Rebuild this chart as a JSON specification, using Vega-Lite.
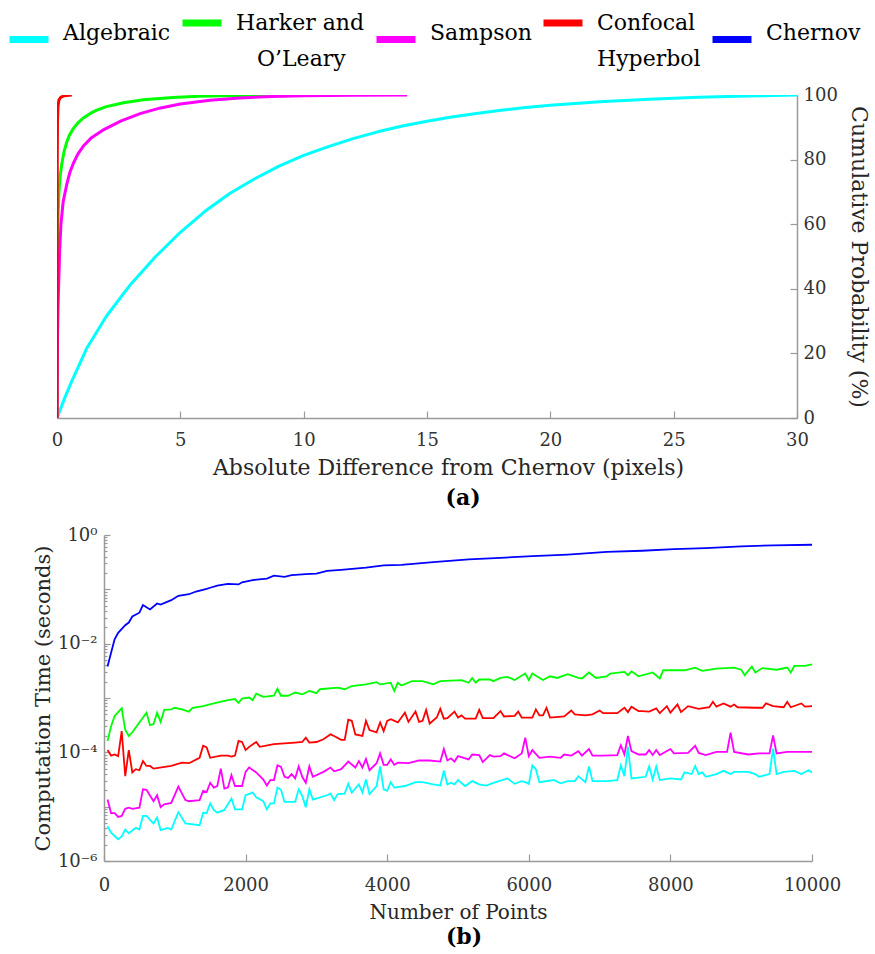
{
  "$schema": "https://vega.github.io/schema/vega-lite/v6.json",
  "padding": {"left": 6, "top": 0, "right": 4, "bottom": 4},
  "background": "white",
  "config": {
    "font": "DejaVu Serif",
    "view": {"stroke": null},
    "axis": {"grid": false, "domainColor": "#9a9a9a", "domainWidth": 1.5, "tickColor": "#9a9a9a", "tickWidth": 1.2, "labelColor": "#333333", "titleColor": "#262626", "labelFont": "DejaVu Serif", "titleFont": "DejaVu Serif", "titleFontWeight": "normal"}
  },
  "datasets": {
    "cdf": [
      {"m": "Algebraic", "x": 0, "p": 0}, {"m": "Algebraic", "x": 0.3, "p": 6}, {"m": "Algebraic", "x": 0.6, "p": 11.4}, {"m": "Algebraic", "x": 1.2, "p": 21.5}, {"m": "Algebraic", "x": 2.0, "p": 31.5}, {"m": "Algebraic", "x": 3.0, "p": 41.5}, {"m": "Algebraic", "x": 4.0, "p": 50}, {"m": "Algebraic", "x": 5.0, "p": 57.5}, {"m": "Algebraic", "x": 6.0, "p": 64}, {"m": "Algebraic", "x": 7.0, "p": 69.5}, {"m": "Algebraic", "x": 8.0, "p": 74}, {"m": "Algebraic", "x": 9.0, "p": 78}, {"m": "Algebraic", "x": 10, "p": 81.3}, {"m": "Algebraic", "x": 11, "p": 84}, {"m": "Algebraic", "x": 12, "p": 86.5}, {"m": "Algebraic", "x": 13, "p": 88.6}, {"m": "Algebraic", "x": 14, "p": 90.4}, {"m": "Algebraic", "x": 15, "p": 91.9}, {"m": "Algebraic", "x": 16, "p": 93.2}, {"m": "Algebraic", "x": 17, "p": 94.3}, {"m": "Algebraic", "x": 18, "p": 95.3}, {"m": "Algebraic", "x": 19, "p": 96.1}, {"m": "Algebraic", "x": 20, "p": 96.8}, {"m": "Algebraic", "x": 22, "p": 97.9}, {"m": "Algebraic", "x": 24, "p": 98.7}, {"m": "Algebraic", "x": 26, "p": 99.3}, {"m": "Algebraic", "x": 28, "p": 99.7}, {"m": "Algebraic", "x": 30, "p": 100},
      {"m": "Harker and O’Leary", "x": 0, "p": 0}, {"m": "Harker and O’Leary", "x": 0.005, "p": 30}, {"m": "Harker and O’Leary", "x": 0.01, "p": 45}, {"m": "Harker and O’Leary", "x": 0.02, "p": 55}, {"m": "Harker and O’Leary", "x": 0.04, "p": 62}, {"m": "Harker and O’Leary", "x": 0.08, "p": 70}, {"m": "Harker and O’Leary", "x": 0.13, "p": 75}, {"m": "Harker and O’Leary", "x": 0.19, "p": 78.5}, {"m": "Harker and O’Leary", "x": 0.28, "p": 82.3}, {"m": "Harker and O’Leary", "x": 0.39, "p": 85.3}, {"m": "Harker and O’Leary", "x": 0.5, "p": 87.5}, {"m": "Harker and O’Leary", "x": 0.66, "p": 89.6}, {"m": "Harker and O’Leary", "x": 0.85, "p": 91.4}, {"m": "Harker and O’Leary", "x": 1.07, "p": 92.9}, {"m": "Harker and O’Leary", "x": 1.35, "p": 94.3}, {"m": "Harker and O’Leary", "x": 1.61, "p": 95.3}, {"m": "Harker and O’Leary", "x": 2.0, "p": 96.4}, {"m": "Harker and O’Leary", "x": 2.7, "p": 97.6}, {"m": "Harker and O’Leary", "x": 3.5, "p": 98.5}, {"m": "Harker and O’Leary", "x": 4.7, "p": 99.2}, {"m": "Harker and O’Leary", "x": 5.7, "p": 99.6}, {"m": "Harker and O’Leary", "x": 6.74, "p": 99.8}, {"m": "Harker and O’Leary", "x": 8.77, "p": 100},
      {"m": "Sampson", "x": 0, "p": 0}, {"m": "Sampson", "x": 0.01, "p": 15}, {"m": "Sampson", "x": 0.02, "p": 25}, {"m": "Sampson", "x": 0.04, "p": 34}, {"m": "Sampson", "x": 0.07, "p": 42}, {"m": "Sampson", "x": 0.11, "p": 52}, {"m": "Sampson", "x": 0.16, "p": 60}, {"m": "Sampson", "x": 0.25, "p": 67}, {"m": "Sampson", "x": 0.4, "p": 72.5}, {"m": "Sampson", "x": 0.52, "p": 76}, {"m": "Sampson", "x": 0.66, "p": 78.8}, {"m": "Sampson", "x": 0.85, "p": 81.8}, {"m": "Sampson", "x": 1.07, "p": 84.2}, {"m": "Sampson", "x": 1.4, "p": 86.8}, {"m": "Sampson", "x": 1.9, "p": 89.3}, {"m": "Sampson", "x": 2.6, "p": 92}, {"m": "Sampson", "x": 3.4, "p": 94.3}, {"m": "Sampson", "x": 4.2, "p": 96}, {"m": "Sampson", "x": 5.0, "p": 97.2}, {"m": "Sampson", "x": 6.2, "p": 98.4}, {"m": "Sampson", "x": 7.4, "p": 99.1}, {"m": "Sampson", "x": 8.7, "p": 99.5}, {"m": "Sampson", "x": 10, "p": 99.75}, {"m": "Sampson", "x": 12, "p": 99.9}, {"m": "Sampson", "x": 14.2, "p": 100},
      {"m": "Confocal Hyperbol", "x": 0, "p": 0}, {"m": "Confocal Hyperbol", "x": 0.005, "p": 50}, {"m": "Confocal Hyperbol", "x": 0.01, "p": 80}, {"m": "Confocal Hyperbol", "x": 0.02, "p": 92}, {"m": "Confocal Hyperbol", "x": 0.04, "p": 96.5}, {"m": "Confocal Hyperbol", "x": 0.08, "p": 98.5}, {"m": "Confocal Hyperbol", "x": 0.15, "p": 99.3}, {"m": "Confocal Hyperbol", "x": 0.3, "p": 99.8}, {"m": "Confocal Hyperbol", "x": 0.6, "p": 100}
    ],
    "time": [
      {"m": "Algebraic", "n": 50, "t": 4.37e-6}, {"m": "Algebraic", "n": 100, "t": 3.31e-6}, {"m": "Algebraic", "n": 200, "t": 2.51e-6}, {"m": "Algebraic", "n": 250, "t": 2.82e-6}, {"m": "Algebraic", "n": 300, "t": 3.8e-6}, {"m": "Algebraic", "n": 350, "t": 3.24e-6}, {"m": "Algebraic", "n": 450, "t": 4.07e-6}, {"m": "Algebraic", "n": 500, "t": 3.8e-6}, {"m": "Algebraic", "n": 550, "t": 6.76e-6}, {"m": "Algebraic", "n": 600, "t": 6.76e-6}, {"m": "Algebraic", "n": 700, "t": 4.9e-6}, {"m": "Algebraic", "n": 750, "t": 6.31e-6}, {"m": "Algebraic", "n": 800, "t": 3.72e-6}, {"m": "Algebraic", "n": 900, "t": 4.07e-6}, {"m": "Algebraic", "n": 950, "t": 3.8e-6}, {"m": "Algebraic", "n": 1050, "t": 7.94e-6}, {"m": "Algebraic", "n": 1150, "t": 4.9e-6}, {"m": "Algebraic", "n": 1350, "t": 4.57e-6}, {"m": "Algebraic", "n": 1400, "t": 7.76e-6}, {"m": "Algebraic", "n": 1450, "t": 7.59e-6}, {"m": "Algebraic", "n": 1500, "t": 1.15e-5}, {"m": "Algebraic", "n": 1550, "t": 8.71e-6}, {"m": "Algebraic", "n": 1600, "t": 7.76e-6}, {"m": "Algebraic", "n": 1700, "t": 8.71e-6}, {"m": "Algebraic", "n": 1800, "t": 1.41e-5}, {"m": "Algebraic", "n": 1850, "t": 8.91e-6}, {"m": "Algebraic", "n": 1950, "t": 8.91e-6}, {"m": "Algebraic", "n": 2000, "t": 1.62e-5}, {"m": "Algebraic", "n": 2100, "t": 1.82e-5}, {"m": "Algebraic", "n": 2150, "t": 1.48e-5}, {"m": "Algebraic", "n": 2250, "t": 1.26e-5}, {"m": "Algebraic", "n": 2300, "t": 8.91e-6}, {"m": "Algebraic", "n": 2350, "t": 1.15e-5}, {"m": "Algebraic", "n": 2400, "t": 1.15e-5}, {"m": "Algebraic", "n": 2450, "t": 2.24e-5}, {"m": "Algebraic", "n": 2500, "t": 2.04e-5}, {"m": "Algebraic", "n": 2550, "t": 1.23e-5}, {"m": "Algebraic", "n": 2700, "t": 1.23e-5}, {"m": "Algebraic", "n": 2750, "t": 2.09e-5}, {"m": "Algebraic", "n": 2800, "t": 1.58e-5}, {"m": "Algebraic", "n": 2850, "t": 9.77e-6}, {"m": "Algebraic", "n": 2900, "t": 2.09e-5}, {"m": "Algebraic", "n": 2950, "t": 1.35e-5}, {"m": "Algebraic", "n": 3150, "t": 1.62e-5}, {"m": "Algebraic", "n": 3200, "t": 1.74e-5}, {"m": "Algebraic", "n": 3250, "t": 1.32e-5}, {"m": "Algebraic", "n": 3300, "t": 1.7e-5}, {"m": "Algebraic", "n": 3400, "t": 1.74e-5}, {"m": "Algebraic", "n": 3450, "t": 2.63e-5}, {"m": "Algebraic", "n": 3500, "t": 1.82e-5}, {"m": "Algebraic", "n": 3600, "t": 2.57e-5}, {"m": "Algebraic", "n": 3650, "t": 1.82e-5}, {"m": "Algebraic", "n": 3700, "t": 3.16e-5}, {"m": "Algebraic", "n": 3750, "t": 1.7e-5}, {"m": "Algebraic", "n": 3850, "t": 2.4e-5}, {"m": "Algebraic", "n": 3900, "t": 5.5e-5}, {"m": "Algebraic", "n": 3950, "t": 2.09e-5}, {"m": "Algebraic", "n": 4000, "t": 1.95e-5}, {"m": "Algebraic", "n": 4050, "t": 2.82e-5}, {"m": "Algebraic", "n": 4100, "t": 2.24e-5}, {"m": "Algebraic", "n": 4250, "t": 2.4e-5}, {"m": "Algebraic", "n": 4400, "t": 2.82e-5}, {"m": "Algebraic", "n": 4500, "t": 2.82e-5}, {"m": "Algebraic", "n": 4650, "t": 2.57e-5}, {"m": "Algebraic", "n": 4750, "t": 2.45e-5}, {"m": "Algebraic", "n": 4800, "t": 4.57e-5}, {"m": "Algebraic", "n": 4850, "t": 2.57e-5}, {"m": "Algebraic", "n": 4900, "t": 2.75e-5}, {"m": "Algebraic", "n": 4950, "t": 2.57e-5}, {"m": "Algebraic", "n": 5000, "t": 3.09e-5}, {"m": "Algebraic", "n": 5100, "t": 2.4e-5}, {"m": "Algebraic", "n": 5200, "t": 2.95e-5}, {"m": "Algebraic", "n": 5300, "t": 2.57e-5}, {"m": "Algebraic", "n": 5400, "t": 2.45e-5}, {"m": "Algebraic", "n": 5500, "t": 2.75e-5}, {"m": "Algebraic", "n": 5700, "t": 3.31e-5}, {"m": "Algebraic", "n": 5800, "t": 2.63e-5}, {"m": "Algebraic", "n": 5900, "t": 2.95e-5}, {"m": "Algebraic", "n": 5950, "t": 2.82e-5}, {"m": "Algebraic", "n": 6000, "t": 2.63e-5}, {"m": "Algebraic", "n": 6050, "t": 5.75e-5}, {"m": "Algebraic", "n": 6100, "t": 4.9e-5}, {"m": "Algebraic", "n": 6150, "t": 2.82e-5}, {"m": "Algebraic", "n": 6350, "t": 3.09e-5}, {"m": "Algebraic", "n": 6450, "t": 2.69e-5}, {"m": "Algebraic", "n": 6550, "t": 2.95e-5}, {"m": "Algebraic", "n": 6650, "t": 2.95e-5}, {"m": "Algebraic", "n": 6700, "t": 3.63e-5}, {"m": "Algebraic", "n": 6800, "t": 2.82e-5}, {"m": "Algebraic", "n": 6850, "t": 5.5e-5}, {"m": "Algebraic", "n": 6900, "t": 2.95e-5}, {"m": "Algebraic", "n": 7100, "t": 2.95e-5}, {"m": "Algebraic", "n": 7250, "t": 3.09e-5}, {"m": "Algebraic", "n": 7300, "t": 5.75e-5}, {"m": "Algebraic", "n": 7350, "t": 3.63e-5}, {"m": "Algebraic", "n": 7400, "t": 1.26e-4}, {"m": "Algebraic", "n": 7450, "t": 3.31e-5}, {"m": "Algebraic", "n": 7650, "t": 3.55e-5}, {"m": "Algebraic", "n": 7700, "t": 5.5e-5}, {"m": "Algebraic", "n": 7750, "t": 3.16e-5}, {"m": "Algebraic", "n": 7800, "t": 5.5e-5}, {"m": "Algebraic", "n": 7850, "t": 3.09e-5}, {"m": "Algebraic", "n": 8000, "t": 3.31e-5}, {"m": "Algebraic", "n": 8150, "t": 3.16e-5}, {"m": "Algebraic", "n": 8200, "t": 4.27e-5}, {"m": "Algebraic", "n": 8300, "t": 3.98e-5}, {"m": "Algebraic", "n": 8350, "t": 5.62e-5}, {"m": "Algebraic", "n": 8400, "t": 3.98e-5}, {"m": "Algebraic", "n": 8450, "t": 4.27e-5}, {"m": "Algebraic", "n": 8500, "t": 3.55e-5}, {"m": "Algebraic", "n": 8650, "t": 3.98e-5}, {"m": "Algebraic", "n": 8750, "t": 4.57e-5}, {"m": "Algebraic", "n": 8850, "t": 3.98e-5}, {"m": "Algebraic", "n": 8900, "t": 4.37e-5}, {"m": "Algebraic", "n": 9100, "t": 4.37e-5}, {"m": "Algebraic", "n": 9200, "t": 3.98e-5}, {"m": "Algebraic", "n": 9250, "t": 3.55e-5}, {"m": "Algebraic", "n": 9400, "t": 3.98e-5}, {"m": "Algebraic", "n": 9450, "t": 1.17e-4}, {"m": "Algebraic", "n": 9500, "t": 3.98e-5}, {"m": "Algebraic", "n": 9600, "t": 4.37e-5}, {"m": "Algebraic", "n": 9750, "t": 4.57e-5}, {"m": "Algebraic", "n": 9850, "t": 3.98e-5}, {"m": "Algebraic", "n": 9950, "t": 4.68e-5}, {"m": "Algebraic", "n": 10000, "t": 4.27e-5},
      {"m": "Harker and O’Leary", "n": 50, "t": 1.62e-4}, {"m": "Harker and O’Leary", "n": 100, "t": 3.02e-4}, {"m": "Harker and O’Leary", "n": 150, "t": 4.68e-4}, {"m": "Harker and O’Leary", "n": 250, "t": 6.46e-4}, {"m": "Harker and O’Leary", "n": 300, "t": 2.57e-4}, {"m": "Harker and O’Leary", "n": 350, "t": 2.0e-4}, {"m": "Harker and O’Leary", "n": 400, "t": 2.34e-4}, {"m": "Harker and O’Leary", "n": 500, "t": 3.55e-4}, {"m": "Harker and O’Leary", "n": 600, "t": 5.37e-4}, {"m": "Harker and O’Leary", "n": 650, "t": 3.16e-4}, {"m": "Harker and O’Leary", "n": 700, "t": 3.31e-4}, {"m": "Harker and O’Leary", "n": 750, "t": 5.37e-4}, {"m": "Harker and O’Leary", "n": 800, "t": 3.63e-4}, {"m": "Harker and O’Leary", "n": 850, "t": 6.03e-4}, {"m": "Harker and O’Leary", "n": 950, "t": 6.17e-4}, {"m": "Harker and O’Leary", "n": 1000, "t": 6.61e-4}, {"m": "Harker and O’Leary", "n": 1100, "t": 6.17e-4}, {"m": "Harker and O’Leary", "n": 1200, "t": 5.62e-4}, {"m": "Harker and O’Leary", "n": 1250, "t": 6.61e-4}, {"m": "Harker and O’Leary", "n": 1400, "t": 7.08e-4}, {"m": "Harker and O’Leary", "n": 1550, "t": 7.94e-4}, {"m": "Harker and O’Leary", "n": 1750, "t": 9.12e-4}, {"m": "Harker and O’Leary", "n": 1850, "t": 9.55e-4}, {"m": "Harker and O’Leary", "n": 1900, "t": 8.13e-4}, {"m": "Harker and O’Leary", "n": 1950, "t": 9.77e-4}, {"m": "Harker and O’Leary", "n": 2050, "t": 1.02e-3}, {"m": "Harker and O’Leary", "n": 2100, "t": 9.12e-4}, {"m": "Harker and O’Leary", "n": 2150, "t": 1.2e-3}, {"m": "Harker and O’Leary", "n": 2250, "t": 1.05e-3}, {"m": "Harker and O’Leary", "n": 2400, "t": 1.1e-3}, {"m": "Harker and O’Leary", "n": 2450, "t": 1.48e-3}, {"m": "Harker and O’Leary", "n": 2500, "t": 1.1e-3}, {"m": "Harker and O’Leary", "n": 2600, "t": 1.1e-3}, {"m": "Harker and O’Leary", "n": 2700, "t": 1.26e-3}, {"m": "Harker and O’Leary", "n": 2800, "t": 1.17e-3}, {"m": "Harker and O’Leary", "n": 2900, "t": 1.35e-3}, {"m": "Harker and O’Leary", "n": 3000, "t": 1.23e-3}, {"m": "Harker and O’Leary", "n": 3050, "t": 1.45e-3}, {"m": "Harker and O’Leary", "n": 3300, "t": 1.55e-3}, {"m": "Harker and O’Leary", "n": 3400, "t": 1.45e-3}, {"m": "Harker and O’Leary", "n": 3500, "t": 1.66e-3}, {"m": "Harker and O’Leary", "n": 3700, "t": 1.78e-3}, {"m": "Harker and O’Leary", "n": 3850, "t": 1.95e-3}, {"m": "Harker and O’Leary", "n": 3900, "t": 1.78e-3}, {"m": "Harker and O’Leary", "n": 4050, "t": 1.91e-3}, {"m": "Harker and O’Leary", "n": 4100, "t": 1.35e-3}, {"m": "Harker and O’Leary", "n": 4150, "t": 1.91e-3}, {"m": "Harker and O’Leary", "n": 4200, "t": 1.7e-3}, {"m": "Harker and O’Leary", "n": 4350, "t": 2.04e-3}, {"m": "Harker and O’Leary", "n": 4500, "t": 2.04e-3}, {"m": "Harker and O’Leary", "n": 4650, "t": 1.78e-3}, {"m": "Harker and O’Leary", "n": 4750, "t": 2.04e-3}, {"m": "Harker and O’Leary", "n": 5050, "t": 2.14e-3}, {"m": "Harker and O’Leary", "n": 5150, "t": 1.91e-3}, {"m": "Harker and O’Leary", "n": 5200, "t": 2.34e-3}, {"m": "Harker and O’Leary", "n": 5250, "t": 1.91e-3}, {"m": "Harker and O’Leary", "n": 5300, "t": 2.19e-3}, {"m": "Harker and O’Leary", "n": 5450, "t": 2.19e-3}, {"m": "Harker and O’Leary", "n": 5500, "t": 2.04e-3}, {"m": "Harker and O’Leary", "n": 5600, "t": 2.34e-3}, {"m": "Harker and O’Leary", "n": 5700, "t": 2.45e-3}, {"m": "Harker and O’Leary", "n": 5800, "t": 2.14e-3}, {"m": "Harker and O’Leary", "n": 5950, "t": 2.82e-3}, {"m": "Harker and O’Leary", "n": 6000, "t": 2.14e-3}, {"m": "Harker and O’Leary", "n": 6050, "t": 2.82e-3}, {"m": "Harker and O’Leary", "n": 6200, "t": 2.14e-3}, {"m": "Harker and O’Leary", "n": 6300, "t": 2.51e-3}, {"m": "Harker and O’Leary", "n": 6400, "t": 2.34e-3}, {"m": "Harker and O’Leary", "n": 6550, "t": 2.75e-3}, {"m": "Harker and O’Leary", "n": 6700, "t": 2.34e-3}, {"m": "Harker and O’Leary", "n": 6750, "t": 2.29e-3}, {"m": "Harker and O’Leary", "n": 6850, "t": 2.95e-3}, {"m": "Harker and O’Leary", "n": 6950, "t": 2.34e-3}, {"m": "Harker and O’Leary", "n": 7100, "t": 2.51e-3}, {"m": "Harker and O’Leary", "n": 7150, "t": 2.82e-3}, {"m": "Harker and O’Leary", "n": 7350, "t": 3.02e-3}, {"m": "Harker and O’Leary", "n": 7400, "t": 2.63e-3}, {"m": "Harker and O’Leary", "n": 7450, "t": 3.09e-3}, {"m": "Harker and O’Leary", "n": 7550, "t": 2.51e-3}, {"m": "Harker and O’Leary", "n": 7750, "t": 2.95e-3}, {"m": "Harker and O’Leary", "n": 7850, "t": 2.29e-3}, {"m": "Harker and O’Leary", "n": 7900, "t": 3.24e-3}, {"m": "Harker and O’Leary", "n": 8200, "t": 3.24e-3}, {"m": "Harker and O’Leary", "n": 8350, "t": 3.63e-3}, {"m": "Harker and O’Leary", "n": 8450, "t": 3.16e-3}, {"m": "Harker and O’Leary", "n": 8650, "t": 3.47e-3}, {"m": "Harker and O’Leary", "n": 8900, "t": 3.63e-3}, {"m": "Harker and O’Leary", "n": 9000, "t": 3.31e-3}, {"m": "Harker and O’Leary", "n": 9050, "t": 2.63e-3}, {"m": "Harker and O’Leary", "n": 9150, "t": 3.8e-3}, {"m": "Harker and O’Leary", "n": 9200, "t": 2.95e-3}, {"m": "Harker and O’Leary", "n": 9300, "t": 3.55e-3}, {"m": "Harker and O’Leary", "n": 9500, "t": 3.31e-3}, {"m": "Harker and O’Leary", "n": 9650, "t": 3.63e-3}, {"m": "Harker and O’Leary", "n": 9700, "t": 2.95e-3}, {"m": "Harker and O’Leary", "n": 9750, "t": 3.89e-3}, {"m": "Harker and O’Leary", "n": 9900, "t": 3.89e-3}, {"m": "Harker and O’Leary", "n": 10000, "t": 4.17e-3},
      {"m": "Sampson", "n": 50, "t": 1.35e-5}, {"m": "Sampson", "n": 100, "t": 7.59e-6}, {"m": "Sampson", "n": 150, "t": 7.59e-6}, {"m": "Sampson", "n": 200, "t": 6.46e-6}, {"m": "Sampson", "n": 250, "t": 6.76e-6}, {"m": "Sampson", "n": 300, "t": 9.12e-6}, {"m": "Sampson", "n": 350, "t": 9.55e-6}, {"m": "Sampson", "n": 400, "t": 9.12e-6}, {"m": "Sampson", "n": 500, "t": 9.55e-6}, {"m": "Sampson", "n": 550, "t": 2.09e-5}, {"m": "Sampson", "n": 600, "t": 2.04e-5}, {"m": "Sampson", "n": 700, "t": 1.26e-5}, {"m": "Sampson", "n": 750, "t": 1.62e-5}, {"m": "Sampson", "n": 800, "t": 9.77e-6}, {"m": "Sampson", "n": 850, "t": 1.1e-5}, {"m": "Sampson", "n": 950, "t": 1.17e-5}, {"m": "Sampson", "n": 1050, "t": 2.34e-5}, {"m": "Sampson", "n": 1150, "t": 1.32e-5}, {"m": "Sampson", "n": 1200, "t": 1.26e-5}, {"m": "Sampson", "n": 1350, "t": 1.32e-5}, {"m": "Sampson", "n": 1400, "t": 1.95e-5}, {"m": "Sampson", "n": 1450, "t": 1.86e-5}, {"m": "Sampson", "n": 1500, "t": 2.75e-5}, {"m": "Sampson", "n": 1550, "t": 2.24e-5}, {"m": "Sampson", "n": 1600, "t": 2.4e-5}, {"m": "Sampson", "n": 1650, "t": 5.01e-5}, {"m": "Sampson", "n": 1700, "t": 2.14e-5}, {"m": "Sampson", "n": 1750, "t": 2.24e-5}, {"m": "Sampson", "n": 1800, "t": 3.8e-5}, {"m": "Sampson", "n": 1850, "t": 2.4e-5}, {"m": "Sampson", "n": 1950, "t": 2.4e-5}, {"m": "Sampson", "n": 2000, "t": 4.37e-5}, {"m": "Sampson", "n": 2050, "t": 5.25e-5}, {"m": "Sampson", "n": 2150, "t": 4.27e-5}, {"m": "Sampson", "n": 2250, "t": 3.16e-5}, {"m": "Sampson", "n": 2300, "t": 2.45e-5}, {"m": "Sampson", "n": 2350, "t": 3.09e-5}, {"m": "Sampson", "n": 2400, "t": 3.09e-5}, {"m": "Sampson", "n": 2450, "t": 5.75e-5}, {"m": "Sampson", "n": 2500, "t": 5.37e-5}, {"m": "Sampson", "n": 2550, "t": 3.55e-5}, {"m": "Sampson", "n": 2600, "t": 3.39e-5}, {"m": "Sampson", "n": 2650, "t": 3.98e-5}, {"m": "Sampson", "n": 2700, "t": 3.31e-5}, {"m": "Sampson", "n": 2750, "t": 5.5e-5}, {"m": "Sampson", "n": 2800, "t": 3.55e-5}, {"m": "Sampson", "n": 2850, "t": 2.75e-5}, {"m": "Sampson", "n": 2900, "t": 5.5e-5}, {"m": "Sampson", "n": 2950, "t": 3.55e-5}, {"m": "Sampson", "n": 3100, "t": 4.37e-5}, {"m": "Sampson", "n": 3200, "t": 5.25e-5}, {"m": "Sampson", "n": 3250, "t": 4.47e-5}, {"m": "Sampson", "n": 3350, "t": 4.9e-5}, {"m": "Sampson", "n": 3450, "t": 6.76e-5}, {"m": "Sampson", "n": 3550, "t": 5.25e-5}, {"m": "Sampson", "n": 3600, "t": 6.92e-5}, {"m": "Sampson", "n": 3650, "t": 5.25e-5}, {"m": "Sampson", "n": 3700, "t": 7.59e-5}, {"m": "Sampson", "n": 3750, "t": 4.68e-5}, {"m": "Sampson", "n": 3850, "t": 6.31e-5}, {"m": "Sampson", "n": 3900, "t": 9.55e-5}, {"m": "Sampson", "n": 3950, "t": 5.89e-5}, {"m": "Sampson", "n": 4000, "t": 5.89e-5}, {"m": "Sampson", "n": 4050, "t": 7.41e-5}, {"m": "Sampson", "n": 4100, "t": 5.89e-5}, {"m": "Sampson", "n": 4150, "t": 6.46e-5}, {"m": "Sampson", "n": 4300, "t": 6.31e-5}, {"m": "Sampson", "n": 4450, "t": 7.08e-5}, {"m": "Sampson", "n": 4600, "t": 7.08e-5}, {"m": "Sampson", "n": 4750, "t": 6.76e-5}, {"m": "Sampson", "n": 4800, "t": 1.15e-4}, {"m": "Sampson", "n": 4850, "t": 7.08e-5}, {"m": "Sampson", "n": 4900, "t": 7.76e-5}, {"m": "Sampson", "n": 4950, "t": 6.76e-5}, {"m": "Sampson", "n": 5000, "t": 8.51e-5}, {"m": "Sampson", "n": 5150, "t": 7.41e-5}, {"m": "Sampson", "n": 5200, "t": 9.12e-5}, {"m": "Sampson", "n": 5300, "t": 8.91e-5}, {"m": "Sampson", "n": 5350, "t": 6.61e-5}, {"m": "Sampson", "n": 5450, "t": 8.91e-5}, {"m": "Sampson", "n": 5500, "t": 8.32e-5}, {"m": "Sampson", "n": 5600, "t": 8.51e-5}, {"m": "Sampson", "n": 5650, "t": 9.55e-5}, {"m": "Sampson", "n": 5800, "t": 7.76e-5}, {"m": "Sampson", "n": 5900, "t": 9.55e-5}, {"m": "Sampson", "n": 5950, "t": 1.86e-4}, {"m": "Sampson", "n": 6000, "t": 8.51e-5}, {"m": "Sampson", "n": 6050, "t": 1.1e-4}, {"m": "Sampson", "n": 6150, "t": 7.94e-5}, {"m": "Sampson", "n": 6300, "t": 8.32e-5}, {"m": "Sampson", "n": 6450, "t": 7.94e-5}, {"m": "Sampson", "n": 6500, "t": 9.12e-5}, {"m": "Sampson", "n": 6600, "t": 8.71e-5}, {"m": "Sampson", "n": 6700, "t": 1.05e-4}, {"m": "Sampson", "n": 6750, "t": 8.71e-5}, {"m": "Sampson", "n": 6850, "t": 1.15e-4}, {"m": "Sampson", "n": 6900, "t": 8.71e-5}, {"m": "Sampson", "n": 7050, "t": 8.71e-5}, {"m": "Sampson", "n": 7250, "t": 8.91e-5}, {"m": "Sampson", "n": 7300, "t": 1.35e-4}, {"m": "Sampson", "n": 7350, "t": 9.12e-5}, {"m": "Sampson", "n": 7400, "t": 2.0e-4}, {"m": "Sampson", "n": 7450, "t": 1.05e-4}, {"m": "Sampson", "n": 7550, "t": 9.12e-5}, {"m": "Sampson", "n": 7650, "t": 9.12e-5}, {"m": "Sampson", "n": 7700, "t": 1.1e-4}, {"m": "Sampson", "n": 7750, "t": 8.91e-5}, {"m": "Sampson", "n": 7800, "t": 1.1e-4}, {"m": "Sampson", "n": 7850, "t": 8.91e-5}, {"m": "Sampson", "n": 8000, "t": 1.15e-4}, {"m": "Sampson", "n": 8050, "t": 9.55e-5}, {"m": "Sampson", "n": 8250, "t": 9.77e-5}, {"m": "Sampson", "n": 8350, "t": 1.32e-4}, {"m": "Sampson", "n": 8400, "t": 9.77e-5}, {"m": "Sampson", "n": 8500, "t": 8.91e-5}, {"m": "Sampson", "n": 8650, "t": 1.02e-4}, {"m": "Sampson", "n": 8800, "t": 1.02e-4}, {"m": "Sampson", "n": 8850, "t": 2.29e-4}, {"m": "Sampson", "n": 8900, "t": 1.02e-4}, {"m": "Sampson", "n": 9100, "t": 9.12e-5}, {"m": "Sampson", "n": 9250, "t": 9.55e-5}, {"m": "Sampson", "n": 9400, "t": 9.55e-5}, {"m": "Sampson", "n": 9450, "t": 2.04e-4}, {"m": "Sampson", "n": 9500, "t": 9.55e-5}, {"m": "Sampson", "n": 9650, "t": 1.02e-4}, {"m": "Sampson", "n": 9850, "t": 1.02e-4}, {"m": "Sampson", "n": 10000, "t": 1.02e-4},
      {"m": "Confocal Hyperbol", "n": 50, "t": 1.1e-4}, {"m": "Confocal Hyperbol", "n": 100, "t": 8.71e-5}, {"m": "Confocal Hyperbol", "n": 150, "t": 9.12e-5}, {"m": "Confocal Hyperbol", "n": 200, "t": 8.51e-5}, {"m": "Confocal Hyperbol", "n": 250, "t": 2.45e-4}, {"m": "Confocal Hyperbol", "n": 300, "t": 3.63e-5}, {"m": "Confocal Hyperbol", "n": 350, "t": 1.1e-4}, {"m": "Confocal Hyperbol", "n": 400, "t": 4.27e-5}, {"m": "Confocal Hyperbol", "n": 450, "t": 4.9e-5}, {"m": "Confocal Hyperbol", "n": 500, "t": 4.68e-5}, {"m": "Confocal Hyperbol", "n": 550, "t": 6.92e-5}, {"m": "Confocal Hyperbol", "n": 600, "t": 5.62e-5}, {"m": "Confocal Hyperbol", "n": 650, "t": 5.62e-5}, {"m": "Confocal Hyperbol", "n": 700, "t": 5.01e-5}, {"m": "Confocal Hyperbol", "n": 950, "t": 5.62e-5}, {"m": "Confocal Hyperbol", "n": 1100, "t": 6.46e-5}, {"m": "Confocal Hyperbol", "n": 1200, "t": 6.31e-5}, {"m": "Confocal Hyperbol", "n": 1350, "t": 7.94e-5}, {"m": "Confocal Hyperbol", "n": 1400, "t": 1.32e-4}, {"m": "Confocal Hyperbol", "n": 1450, "t": 1.23e-4}, {"m": "Confocal Hyperbol", "n": 1500, "t": 7.94e-5}, {"m": "Confocal Hyperbol", "n": 1650, "t": 8.71e-5}, {"m": "Confocal Hyperbol", "n": 1750, "t": 8.71e-5}, {"m": "Confocal Hyperbol", "n": 1800, "t": 8.32e-5}, {"m": "Confocal Hyperbol", "n": 1850, "t": 8.71e-5}, {"m": "Confocal Hyperbol", "n": 1900, "t": 1.62e-4}, {"m": "Confocal Hyperbol", "n": 1950, "t": 1.55e-4}, {"m": "Confocal Hyperbol", "n": 2000, "t": 1.1e-4}, {"m": "Confocal Hyperbol", "n": 2050, "t": 1.26e-4}, {"m": "Confocal Hyperbol", "n": 2150, "t": 1.55e-4}, {"m": "Confocal Hyperbol", "n": 2200, "t": 1.26e-4}, {"m": "Confocal Hyperbol", "n": 2400, "t": 1.41e-4}, {"m": "Confocal Hyperbol", "n": 2700, "t": 1.51e-4}, {"m": "Confocal Hyperbol", "n": 2800, "t": 1.55e-4}, {"m": "Confocal Hyperbol", "n": 2850, "t": 1.86e-4}, {"m": "Confocal Hyperbol", "n": 2900, "t": 1.51e-4}, {"m": "Confocal Hyperbol", "n": 3000, "t": 1.55e-4}, {"m": "Confocal Hyperbol", "n": 3100, "t": 1.74e-4}, {"m": "Confocal Hyperbol", "n": 3200, "t": 2.14e-4}, {"m": "Confocal Hyperbol", "n": 3250, "t": 2.0e-4}, {"m": "Confocal Hyperbol", "n": 3350, "t": 1.7e-4}, {"m": "Confocal Hyperbol", "n": 3400, "t": 1.7e-4}, {"m": "Confocal Hyperbol", "n": 3450, "t": 3.98e-4}, {"m": "Confocal Hyperbol", "n": 3500, "t": 3.8e-4}, {"m": "Confocal Hyperbol", "n": 3550, "t": 2.14e-4}, {"m": "Confocal Hyperbol", "n": 3650, "t": 2.0e-4}, {"m": "Confocal Hyperbol", "n": 3700, "t": 3.8e-4}, {"m": "Confocal Hyperbol", "n": 3750, "t": 2.57e-4}, {"m": "Confocal Hyperbol", "n": 3850, "t": 2.34e-4}, {"m": "Confocal Hyperbol", "n": 3900, "t": 3.55e-4}, {"m": "Confocal Hyperbol", "n": 3950, "t": 2.45e-4}, {"m": "Confocal Hyperbol", "n": 4000, "t": 3.8e-4}, {"m": "Confocal Hyperbol", "n": 4050, "t": 4.07e-4}, {"m": "Confocal Hyperbol", "n": 4150, "t": 3.55e-4}, {"m": "Confocal Hyperbol", "n": 4250, "t": 5.37e-4}, {"m": "Confocal Hyperbol", "n": 4300, "t": 3.63e-4}, {"m": "Confocal Hyperbol", "n": 4400, "t": 5.62e-4}, {"m": "Confocal Hyperbol", "n": 4450, "t": 3.63e-4}, {"m": "Confocal Hyperbol", "n": 4500, "t": 3.8e-4}, {"m": "Confocal Hyperbol", "n": 4550, "t": 6.03e-4}, {"m": "Confocal Hyperbol", "n": 4600, "t": 3.39e-4}, {"m": "Confocal Hyperbol", "n": 4700, "t": 4.37e-4}, {"m": "Confocal Hyperbol", "n": 4750, "t": 6.31e-4}, {"m": "Confocal Hyperbol", "n": 4800, "t": 4.17e-4}, {"m": "Confocal Hyperbol", "n": 4850, "t": 4.27e-4}, {"m": "Confocal Hyperbol", "n": 4950, "t": 5.62e-4}, {"m": "Confocal Hyperbol", "n": 5000, "t": 4.37e-4}, {"m": "Confocal Hyperbol", "n": 5050, "t": 4.79e-4}, {"m": "Confocal Hyperbol", "n": 5100, "t": 4.17e-4}, {"m": "Confocal Hyperbol", "n": 5250, "t": 4.17e-4}, {"m": "Confocal Hyperbol", "n": 5300, "t": 6.03e-4}, {"m": "Confocal Hyperbol", "n": 5350, "t": 4.27e-4}, {"m": "Confocal Hyperbol", "n": 5500, "t": 4.27e-4}, {"m": "Confocal Hyperbol", "n": 5600, "t": 5.75e-4}, {"m": "Confocal Hyperbol", "n": 5650, "t": 4.57e-4}, {"m": "Confocal Hyperbol", "n": 5800, "t": 4.68e-4}, {"m": "Confocal Hyperbol", "n": 5850, "t": 5.62e-4}, {"m": "Confocal Hyperbol", "n": 5900, "t": 4.37e-4}, {"m": "Confocal Hyperbol", "n": 6050, "t": 4.37e-4}, {"m": "Confocal Hyperbol", "n": 6100, "t": 6.17e-4}, {"m": "Confocal Hyperbol", "n": 6150, "t": 4.79e-4}, {"m": "Confocal Hyperbol", "n": 6200, "t": 4.79e-4}, {"m": "Confocal Hyperbol", "n": 6250, "t": 6.61e-4}, {"m": "Confocal Hyperbol", "n": 6300, "t": 4.37e-4}, {"m": "Confocal Hyperbol", "n": 6500, "t": 4.57e-4}, {"m": "Confocal Hyperbol", "n": 6600, "t": 5.89e-4}, {"m": "Confocal Hyperbol", "n": 6650, "t": 5.01e-4}, {"m": "Confocal Hyperbol", "n": 6800, "t": 4.79e-4}, {"m": "Confocal Hyperbol", "n": 6900, "t": 5.01e-4}, {"m": "Confocal Hyperbol", "n": 7000, "t": 5.89e-4}, {"m": "Confocal Hyperbol", "n": 7050, "t": 5.25e-4}, {"m": "Confocal Hyperbol", "n": 7250, "t": 5.25e-4}, {"m": "Confocal Hyperbol", "n": 7350, "t": 6.61e-4}, {"m": "Confocal Hyperbol", "n": 7400, "t": 5.5e-4}, {"m": "Confocal Hyperbol", "n": 7450, "t": 6.92e-4}, {"m": "Confocal Hyperbol", "n": 7550, "t": 5.75e-4}, {"m": "Confocal Hyperbol", "n": 7600, "t": 5.75e-4}, {"m": "Confocal Hyperbol", "n": 7700, "t": 5.62e-4}, {"m": "Confocal Hyperbol", "n": 7800, "t": 6.46e-4}, {"m": "Confocal Hyperbol", "n": 7850, "t": 5.25e-4}, {"m": "Confocal Hyperbol", "n": 7950, "t": 7.08e-4}, {"m": "Confocal Hyperbol", "n": 8000, "t": 5.37e-4}, {"m": "Confocal Hyperbol", "n": 8100, "t": 7.59e-4}, {"m": "Confocal Hyperbol", "n": 8150, "t": 5.5e-4}, {"m": "Confocal Hyperbol", "n": 8250, "t": 7.08e-4}, {"m": "Confocal Hyperbol", "n": 8400, "t": 6.31e-4}, {"m": "Confocal Hyperbol", "n": 8550, "t": 6.76e-4}, {"m": "Confocal Hyperbol", "n": 8600, "t": 8.51e-4}, {"m": "Confocal Hyperbol", "n": 8650, "t": 6.92e-4}, {"m": "Confocal Hyperbol", "n": 8750, "t": 7.94e-4}, {"m": "Confocal Hyperbol", "n": 8850, "t": 6.92e-4}, {"m": "Confocal Hyperbol", "n": 8900, "t": 7.59e-4}, {"m": "Confocal Hyperbol", "n": 8950, "t": 6.76e-4}, {"m": "Confocal Hyperbol", "n": 9200, "t": 6.61e-4}, {"m": "Confocal Hyperbol", "n": 9300, "t": 6.61e-4}, {"m": "Confocal Hyperbol", "n": 9350, "t": 7.94e-4}, {"m": "Confocal Hyperbol", "n": 9450, "t": 7.08e-4}, {"m": "Confocal Hyperbol", "n": 9600, "t": 6.76e-4}, {"m": "Confocal Hyperbol", "n": 9650, "t": 8.51e-4}, {"m": "Confocal Hyperbol", "n": 9700, "t": 6.76e-4}, {"m": "Confocal Hyperbol", "n": 9850, "t": 7.94e-4}, {"m": "Confocal Hyperbol", "n": 9900, "t": 6.92e-4}, {"m": "Confocal Hyperbol", "n": 10000, "t": 7.08e-4},
      {"m": "Chernov", "n": 50, "t": 0.0038}, {"m": "Chernov", "n": 100, "t": 0.0068}, {"m": "Chernov", "n": 150, "t": 0.012}, {"m": "Chernov", "n": 200, "t": 0.0158}, {"m": "Chernov", "n": 300, "t": 0.0219}, {"m": "Chernov", "n": 350, "t": 0.0245}, {"m": "Chernov", "n": 400, "t": 0.0316}, {"m": "Chernov", "n": 500, "t": 0.0372}, {"m": "Chernov", "n": 550, "t": 0.0513}, {"m": "Chernov", "n": 650, "t": 0.0427}, {"m": "Chernov", "n": 750, "t": 0.055}, {"m": "Chernov", "n": 800, "t": 0.0525}, {"m": "Chernov", "n": 950, "t": 0.0631}, {"m": "Chernov", "n": 1050, "t": 0.0759}, {"m": "Chernov", "n": 1200, "t": 0.0813}, {"m": "Chernov", "n": 1300, "t": 0.0912}, {"m": "Chernov", "n": 1450, "t": 0.102}, {"m": "Chernov", "n": 1500, "t": 0.107}, {"m": "Chernov", "n": 1600, "t": 0.117}, {"m": "Chernov", "n": 1750, "t": 0.126}, {"m": "Chernov", "n": 1900, "t": 0.123}, {"m": "Chernov", "n": 1950, "t": 0.135}, {"m": "Chernov", "n": 2100, "t": 0.148}, {"m": "Chernov", "n": 2300, "t": 0.158}, {"m": "Chernov", "n": 2400, "t": 0.178}, {"m": "Chernov", "n": 2550, "t": 0.17}, {"m": "Chernov", "n": 2650, "t": 0.182}, {"m": "Chernov", "n": 2850, "t": 0.191}, {"m": "Chernov", "n": 3000, "t": 0.195}, {"m": "Chernov", "n": 3150, "t": 0.219}, {"m": "Chernov", "n": 3350, "t": 0.229}, {"m": "Chernov", "n": 3700, "t": 0.251}, {"m": "Chernov", "n": 3950, "t": 0.275}, {"m": "Chernov", "n": 4200, "t": 0.282}, {"m": "Chernov", "n": 4650, "t": 0.316}, {"m": "Chernov", "n": 5150, "t": 0.355}, {"m": "Chernov", "n": 5600, "t": 0.38}, {"m": "Chernov", "n": 6050, "t": 0.407}, {"m": "Chernov", "n": 6550, "t": 0.437}, {"m": "Chernov", "n": 7100, "t": 0.49}, {"m": "Chernov", "n": 7600, "t": 0.513}, {"m": "Chernov", "n": 8050, "t": 0.55}, {"m": "Chernov", "n": 8500, "t": 0.575}, {"m": "Chernov", "n": 9000, "t": 0.617}, {"m": "Chernov", "n": 9450, "t": 0.646}, {"m": "Chernov", "n": 10000, "t": 0.661}
    ]
  },
  "spacing": 17,
  "vconcat": [
    {
      "spacing": 0,
      "hconcat": [
        {"width": 45, "height": 10, "data": {"values": [{"k": 0}]}, "mark": {"type": "rect", "opacity": 0}, "encoding": {}},
        {
          "width": 740, "height": 323,
          "data": {"name": "cdf"},
          "title": {"text": "(a)", "orient": "bottom", "font": "DejaVu Serif", "fontSize": 22, "fontWeight": "bold", "color": "#000000", "dx": 36, "offset": 10},
          "mark": {"type": "line", "strokeWidth": 3, "clip": true, "strokeJoin": "round"},
          "encoding": {
            "x": {"field": "x", "type": "quantitative", "scale": {"domain": [0, 30], "nice": false},
              "axis": {"values": [0, 5, 10, 15, 20, 25, 30], "tickSize": -7, "labelPadding": 20, "labelFontSize": 18, "labelFlush": false, "title": "Absolute Difference from Chernov (pixels)", "titleFontSize": 22, "titleX": 391, "titlePadding": 8}},
            "y": {"field": "p", "type": "quantitative", "scale": {"domain": [0, 100], "nice": false},
              "axis": {"orient": "right", "values": [0, 20, 40, 60, 80, 100], "tickSize": -7, "labelPadding": 13, "labelFontSize": 18, "title": "Cumulative Probability (%)", "titleFontSize": 22, "titlePadding": 9}},
            "color": {"field": "m", "type": "nominal",
              "scale": {"domain": ["Algebraic", "Harker and O’Leary", "Sampson", "Confocal Hyperbol", "Chernov"], "range": ["#00ffff", "#00ff00", "#ff00ff", "#ff0000", "#0000ff"]},
              "legend": {"orient": "none", "legendX": 0, "legendY": -95, "direction": "horizontal", "title": null, "symbolType": "stroke", "symbolSize": 1521, "symbolStrokeWidth": 7, "labelFont": "DejaVu Serif", "labelFontSize": 22, "labelColor": "#000000", "labelOffset": 11, "columnPadding": -3, "labelBaseline": "middle", "labelLimit": 300, "padding": 0,
                "labelExpr": "datum.label == 'Harker and O’Leary' ? ['Harker and', '\u200b\u00a0\u00a0\u00a0O’Leary'] : datum.label == 'Confocal Hyperbol' ? ['Confocal', 'Hyperbol'] : datum.label",
                "encode": {"labels": {"update": {"lineHeight": {"value": 36}, "dy": {"signal": "indexof(['Harker and O’Leary', 'Confocal Hyperbol'], datum.label) >= 0 ? 0 : -7"}}}}}}
          }
        }
      ]
    },
    {
      "spacing": 0,
      "hconcat": [
        {"width": 26, "height": 10, "data": {"values": [{"k": 0}]}, "mark": {"type": "rect", "opacity": 0}, "encoding": {}},
        {
          "width": 708, "height": 326,
          "data": {"name": "time"},
          "title": {"text": "(b)", "orient": "bottom", "font": "DejaVu Serif", "fontSize": 22, "fontWeight": "bold", "color": "#000000", "dx": 6, "offset": 5},
          "mark": {"type": "line", "strokeWidth": 1.8, "clip": true},
          "encoding": {
            "x": {"field": "n", "type": "quantitative", "scale": {"domain": [0, 10000], "nice": false},
              "axis": {"values": [0, 2000, 4000, 6000, 8000, 10000], "format": "d", "tickSize": -7, "labelPadding": 22, "labelFontSize": 18, "labelFlush": false, "title": "Number of Points", "titleFontSize": 20, "titlePadding": 8}},
            "y": {"field": "t", "type": "quantitative", "scale": {"type": "log", "domain": [0.000001, 1], "nice": false},
              "axis": {"values": [1e-6, 2e-6, 3e-6, 4e-6, 5e-6, 6e-6, 7e-6, 8e-6, 9e-6, 1e-5, 2e-5, 3e-5, 4e-5, 5e-5, 6e-5, 7e-5, 8e-5, 9e-5, 1e-4, 2e-4, 3e-4, 4e-4, 5e-4, 6e-4, 7e-4, 8e-4, 9e-4, 0.001, 0.002, 0.003, 0.004, 0.005, 0.006, 0.007, 0.008, 0.009, 0.01, 0.02, 0.03, 0.04, 0.05, 0.06, 0.07, 0.08, 0.09, 0.1, 0.2, 0.3, 0.4, 0.5, 0.6, 0.7, 0.8, 0.9, 1],
                "labelExpr": "datum.value == 1 ? '10⁰' : datum.value == 0.01 ? '10⁻²' : datum.value == 0.0001 ? '10⁻⁴' : datum.value == 0.000001 ? '10⁻⁶' : ''",
                "labelOverlap": false, "labelFontSize": 18, "labelPadding": 13,
                "tickSize": {"condition": {"test": "abs(log(datum.value)/LN10 - round(log(datum.value)/LN10)) < 0.001", "value": -6}, "value": -3},
                "title": "Computation Time (seconds)", "titleFontSize": 21, "titlePadding": 4}},
            "color": {"field": "m", "type": "nominal",
              "scale": {"domain": ["Algebraic", "Harker and O’Leary", "Sampson", "Confocal Hyperbol", "Chernov"], "range": ["#00ffff", "#00ff00", "#ff00ff", "#ff0000", "#0000ff"]},
              "legend": {"orient": "none", "legendX": 0, "legendY": -95, "direction": "horizontal", "title": null, "symbolType": "stroke", "symbolSize": 1521, "symbolStrokeWidth": 7, "labelFont": "DejaVu Serif", "labelFontSize": 22, "labelColor": "#000000", "labelOffset": 11, "columnPadding": -3, "labelBaseline": "middle", "labelLimit": 300, "padding": 0,
                "labelExpr": "datum.label == 'Harker and O’Leary' ? ['Harker and', '\u200b\u00a0\u00a0\u00a0O’Leary'] : datum.label == 'Confocal Hyperbol' ? ['Confocal', 'Hyperbol'] : datum.label",
                "encode": {"labels": {"update": {"lineHeight": {"value": 36}, "dy": {"signal": "indexof(['Harker and O’Leary', 'Confocal Hyperbol'], datum.label) >= 0 ? 0 : -7"}}}}}}
          }
        }
      ]
    }
  ]
}
